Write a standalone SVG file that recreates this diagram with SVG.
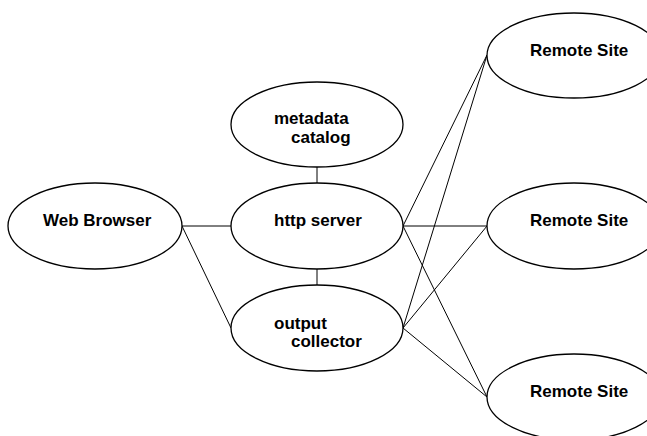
<svg xmlns="http://www.w3.org/2000/svg" width="647" height="436" viewBox="0 0 647 436">
<style>
.n ellipse{fill:#fff;stroke:#000;stroke-width:1.3}
.t{font-family:"Liberation Sans",Arial,sans-serif;font-weight:bold;font-size:17px;fill:#000}
#edges line{stroke:#000;stroke-width:1}
</style>
<rect width="647" height="436" fill="#fff"/>
<g id="edges">
<line x1="182" y1="226" x2="231" y2="226"/>
<line x1="182" y1="226" x2="231" y2="328"/>
<line x1="317" y1="167" x2="317" y2="183"/>
<line x1="317" y1="269" x2="317" y2="285"/>
<line x1="403" y1="226" x2="487" y2="55"/>
<line x1="403" y1="226" x2="487" y2="226"/>
<line x1="403" y1="226" x2="487" y2="397"/>
<line x1="403" y1="328" x2="487" y2="55"/>
<line x1="403" y1="328" x2="487" y2="226"/>
<line x1="403" y1="328" x2="487" y2="397"/>
</g>
<g id="web-browser" class="n"><ellipse cx="95" cy="226" rx="87" ry="43"/><text class="t" x="43" y="226">Web Browser</text></g>
<g id="metadata-catalog" class="n"><ellipse cx="317" cy="124.5" rx="86" ry="42.5"/><text class="t" x="274" y="124">metadata</text><text class="t" x="291" y="142.5">catalog</text></g>
<g id="http-server" class="n"><ellipse cx="317" cy="226" rx="86" ry="43"/><text class="t" x="274" y="226">http server</text></g>
<g id="output-collector" class="n"><ellipse cx="317" cy="328" rx="86" ry="43"/><text class="t" x="274" y="328.5">output</text><text class="t" x="291" y="346.5">collector</text></g>
<g id="remote-site-1" class="n"><ellipse cx="574" cy="55.5" rx="87" ry="42.5"/><text class="t" x="530" y="56">Remote Site</text></g>
<g id="remote-site-2" class="n"><ellipse cx="574" cy="226" rx="87" ry="43"/><text class="t" x="530" y="226">Remote Site</text></g>
<g id="remote-site-3" class="n"><ellipse cx="574" cy="397" rx="87" ry="43"/><text class="t" x="530" y="397">Remote Site</text></g>
</svg>
